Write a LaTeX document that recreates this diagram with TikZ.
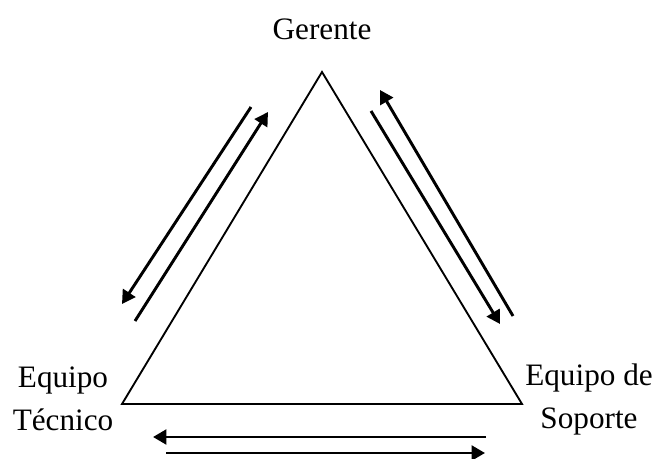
\documentclass[tikz,border=0pt]{standalone}
\usepackage{fontspec}
\setmainfont{Liberation Serif}
\usetikzlibrary{arrows.meta}
\begin{document}
\begin{tikzpicture}[x=0.75pt, y=-0.75pt, font=\fontsize{23.4pt}{32.25pt}\selectfont, >={Triangle[length=10pt, width=11pt]}]
  \useasboundingbox (0,0) rectangle (657,459);
  \coordinate (apex) at (322,72);
  \coordinate (corner-l) at (122,404);
  \coordinate (corner-r) at (522,404);
  \draw[line width=1.4pt] (apex) -- (corner-l) -- (corner-r) -- cycle;
  \node[anchor=base, inner sep=0pt] (gerente) at (322,40) {Gerente};
  \node[anchor=base, inner sep=0pt, align=center] (tecnico) at (63,431) {Equipo\\Técnico};
  \node[anchor=base, inner sep=0pt, align=center] (soporte) at (589,429) {Equipo de\\Soporte};
  \coordinate (left-down-a) at (251,107);  \coordinate (left-down-b) at (122,304);
  \coordinate (left-up-a) at (135,321);    \coordinate (left-up-b) at (268,112);
  \coordinate (right-up-a) at (513,316);   \coordinate (right-up-b) at (380,90);
  \coordinate (right-down-a) at (371,111); \coordinate (right-down-b) at (500,324);
  \coordinate (base-back-a) at (486,437);  \coordinate (base-back-b) at (153,437);
  \coordinate (base-fwd-a) at (166,453);   \coordinate (base-fwd-b) at (485,453);
  \draw[->, line width=2.2pt] (left-down-a) -- (left-down-b);
  \draw[->, line width=2.2pt] (left-up-a) -- (left-up-b);
  \draw[->, line width=2.2pt] (right-up-a) -- (right-up-b);
  \draw[->, line width=2.2pt] (right-down-a) -- (right-down-b);
  \draw[->, line width=2.2pt] (base-back-a) -- (base-back-b);
  \draw[->, line width=2.2pt] (base-fwd-a) -- (base-fwd-b);
\end{tikzpicture}
\end{document}
